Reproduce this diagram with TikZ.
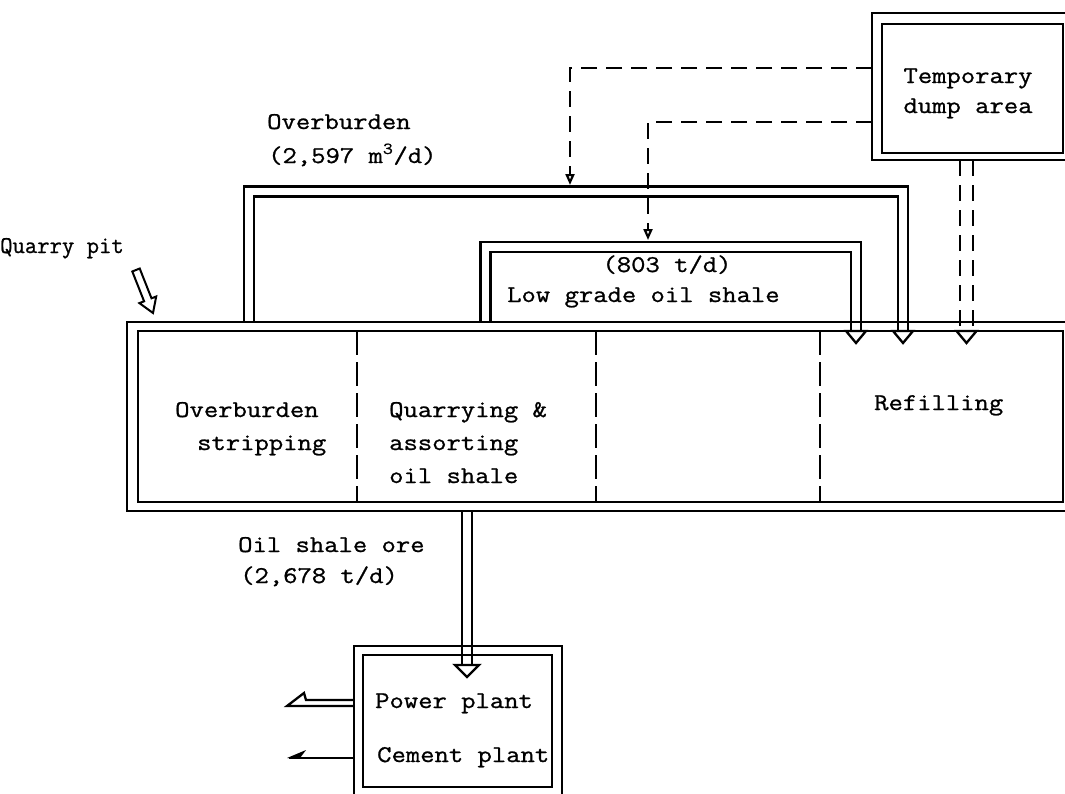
\documentclass[tikz,border=0pt]{standalone}
\usepackage{fontspec}
\newfontfamily\tyfont[FakeBold=0.9]{Latin Modern Mono}
\usetikzlibrary{arrows.meta}
\newcommand{\tw}[1]{\scalebox{1.16}[1]{#1}}
\begin{document}
\begin{tikzpicture}[x=1pt,y=-1pt, line join=miter,
  ln/.style={line width=2.3pt},
  pipe/.style={draw, double, line width=2.3pt, double distance=7.5pt},
  dsh/.style={line width=2.2pt, dash pattern=on 16pt off 9pt},
  divider/.style={line width=1.8pt, dash pattern=on 24pt off 7pt},
  lbl/.style={font=\tyfont\fontsize{24}{33}\selectfont, inner sep=0pt, anchor=base west},
  head/.style={ln, fill=white},
  tip/.style={-{Triangle[open,length=11pt,width=9pt]}}]
\useasboundingbox (0,0) rectangle (1065,793);

% ---------- pipes ----------
\draw[pipe] (249,322) -- (249,191.5) -- (903,191.5) -- (903,331);
\draw[pipe] (485.5,322) -- (485.5,247) -- (856,247) -- (856,331);
\draw[pipe] (467,511) -- (467,665);

% ---------- dashed transport from dump ----------
\draw[dsh] (960,160) -- (960,331);
\draw[dsh] (973,160) -- (973,331);
\coordinate (d1) at (872,68);
\coordinate (d2) at (872,122);
\draw[dsh, tip] (d1) -- (570,68) -- (570,185);
\draw[dsh, tip] (d2) -- (648,122) -- (648,240);

% ---------- boxes ----------
\draw[ln] (872,13) rectangle (1075,160);
\draw[ln] (882,24) rectangle (1063,153);
\node[lbl, anchor=base] (tmp1) at (968,83) {\tw{Temporary}};
\node[lbl, anchor=base] (tmp2) at (968,113) {\tw{dump area}};

\draw[ln] (127,322) rectangle (1075,511);
\draw[ln] (138,331) rectangle (1063,502);
\draw[divider] (357,331) -- (357,502);
\draw[divider] (596,331) -- (596,502);
\draw[divider] (820,331) -- (820,502);

\draw[ln] (354,646) rectangle (562,800);
\draw[ln] (363,655) rectangle (552,787);

% ---------- arrow heads into boxes ----------
\draw[head] (893,331) -- (913,331) -- (903,343) -- cycle;
\draw[head] (846,331) -- (866,331) -- (856,343) -- cycle;
\draw[head] (956.5,331) -- (976.5,331) -- (966.5,343) -- cycle;
\draw[head] (455,665) -- (479,665) -- (467,677) -- cycle;

% ---------- outputs of plants ----------
\draw[ln] (354,700) -- (306,700) -- (304,693) -- (287,706) -- (354,706);
\draw[ln] (354,758) -- (289,758);
\fill (287,758) -- (306,750) -- (300,758) -- cycle;

% ---------- quarry pit pointer ----------
\draw[line width=2pt, fill=white] (139.7,268.5) -- (151.5,298.3) -- (156.2,296.5) -- (153,313) -- (139.4,303.1) -- (144.1,301.3) -- (132.3,271.5) -- cycle;

% ---------- labels ----------
\node[lbl] (qp) at (0,253) {Quarry pit};
\node[lbl] (ob1) at (267,129) {\tw{Overburden}};
\node[lbl] (ob2) at (268,163) {\tw{(2,597 m\textsuperscript{3}/d)}};
\node[lbl, anchor=base] (lg1) at (667,272) {\tw{(803 t/d)}};
\node[lbl] (lg2) at (507,302) {\tw{Low grade oil shale}};

\node[lbl] (s1) at (175,417) {\tw{Overburden}};
\node[lbl] (s2) at (197,450) {\tw{stripping}};
\node[lbl] (q1) at (389,417) {\tw{Quarrying \&}};
\node[lbl] (q2) at (389,450) {\tw{assorting}};
\node[lbl] (q3) at (389,483) {\tw{oil shale}};
\node[lbl] (rf) at (874,410) {\tw{Refilling}};

\node[lbl] (ore1) at (238,552) {\tw{Oil shale ore}};
\node[lbl] (ore2) at (240,583) {\tw{(2,678 t/d)}};

\node[lbl] (pp) at (375,708) {\tw{Power plant}};
\node[lbl] (cp) at (377,762) {\tw{Cement plant}};
\end{tikzpicture}
\end{document}
